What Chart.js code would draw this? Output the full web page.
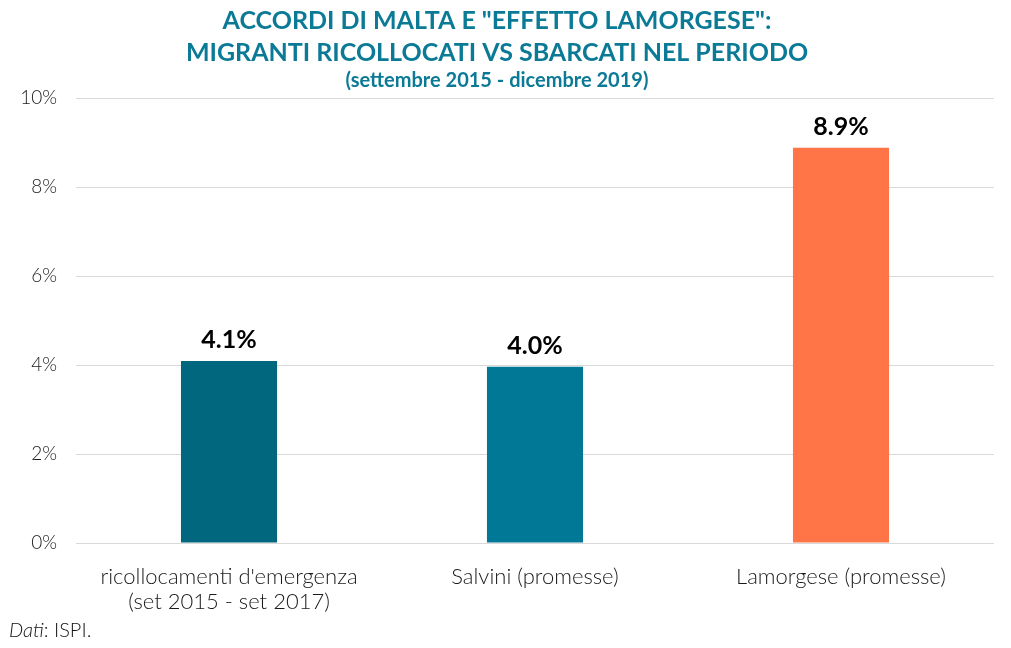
<!DOCTYPE html>
<html>
<head>
<meta charset="utf-8">
<script src="https://cdn.jsdelivr.net/npm/chart.js@4/dist/chart.umd.min.js"></script>
<style>
    body { margin: 0; background: #fff; }
    #wrap { position: relative; width: 1011px; height: 648px; }
    #source {
        position: absolute; left: 9px; top: 617px;
        font-family: Lato, "Open Sans", sans-serif; font-weight: 300;
        font-size: 20px; color: #111;
    }
</style>
</head>
<body>
<div id="wrap">
    <canvas id="chart" width="1011" height="648"></canvas>
    <div id="source"><i>Dati</i>: ISPI.</div>
</div>
<script>
const categories = [
    ['ricollocamenti d\'emergenza', '(set 2015 - set 2017)'],
    'Salvini (promesse)',
    'Lamorgese (promesse)'
];
const values = [4.09, 3.96, 8.88];
const barColors = ['#00677f', '#007896', '#ff7547'];
const yTicks = [0, 2, 4, 6, 8, 10];

const FONT = 'Lato, "Open Sans", sans-serif';

// labels above each bar
const valueLabels = {
    id: 'valueLabels',
    afterDatasetsDraw(chart) {
        const ctx = chart.ctx;
        const meta = chart.getDatasetMeta(0);
        ctx.save();
        ctx.font = 'bold 25px ' + FONT;
        ctx.fillStyle = '#000';
        ctx.textAlign = 'center';
        ctx.textBaseline = 'middle';
        meta.data.forEach((bar, i) => {
            ctx.fillText(values[i].toFixed(1) + '%', bar.x, bar.y - 21);
        });
        ctx.restore();
    }
};

const ctx = document.getElementById('chart').getContext('2d');
new Chart(ctx, {
    type: 'bar',
    data: {
        labels: categories,
        datasets: [{
            data: values,
            backgroundColor: barColors,
            barPercentage: 1,
            categoryPercentage: 0.314
        }]
    },
    options: {
        responsive: false,
        animation: false,
        layout: { padding: { left: 0, right: 17, top: 0, bottom: 0 } },
        plugins: {
            legend: { display: false },
            tooltip: { enabled: false },
            title: {
                display: true,
                text: ['ACCORDI DI MALTA E "EFFETTO LAMORGESE":', 'MIGRANTI RICOLLOCATI VS SBARCATI NEL PERIODO'],
                color: '#0b7a96',
                font: { family: FONT, size: 25, weight: 'bold', lineHeight: 1.28 },
                padding: { top: 5, bottom: 0 }
            },
            subtitle: {
                display: true,
                text: '(settembre 2015 - dicembre 2019)',
                color: '#0b7a96',
                font: { family: FONT, size: 20, weight: 'bold', lineHeight: 1.2 },
                padding: { top: 0, bottom: 5 }
            }
        },
        scales: {
            x: {
                grid: { display: false },
                border: { display: false },
                ticks: {
                    color: '#1a1a1a',
                    padding: 13,
                    font: { family: FONT, size: 22, weight: 300, lineHeight: 1.15 }
                },
                afterFit(scale) { scale.height = 105; }
            },
            y: {
                min: 0,
                max: 10,
                afterBuildTicks(scale) { scale.ticks = yTicks.map(v => ({ value: v })); },
                grid: { color: '#d9d9d9', drawTicks: false },
                border: { display: false },
                ticks: {
                    color: '#1a1a1a',
                    padding: 19,
                    font: { family: FONT, size: 19, weight: 300 },
                    callback: v => v + '%'
                },
                afterFit(scale) { scale.width = 76; }
            }
        }
    },
    plugins: [valueLabels]
});
</script>
</body>
</html>
